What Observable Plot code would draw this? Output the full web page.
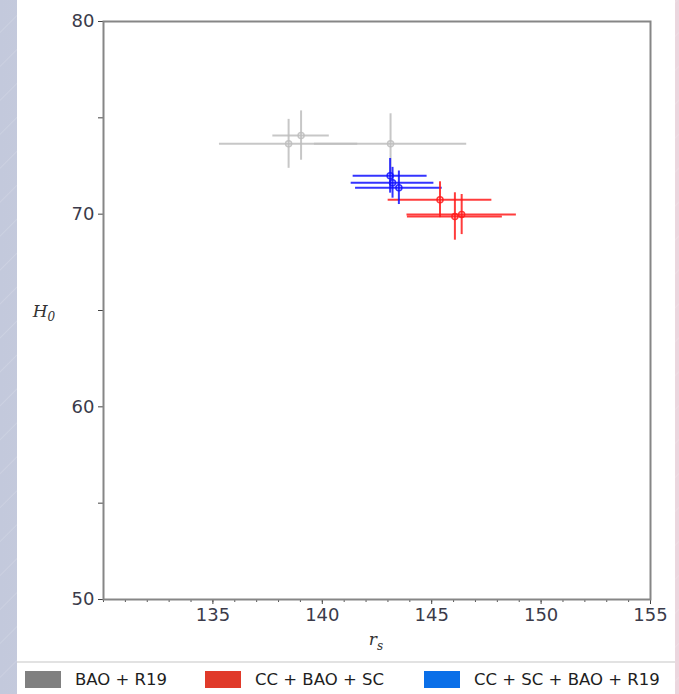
<!DOCTYPE html>
<html>
<head>
<meta charset="utf-8">
<script src="https://cdn.jsdelivr.net/npm/d3@7"></script>
<script src="https://cdn.jsdelivr.net/npm/@observablehq/plot@0.6"></script>
<style>
  html, body { margin: 0; padding: 0; }
  body {
    width: 679px; height: 694px; overflow: hidden; position: relative;
    background:
      repeating-linear-gradient(135deg, rgba(255,255,255,0) 0px, rgba(255,255,255,0) 22px, rgba(255,255,255,0.14) 23px, rgba(255,255,255,0) 24px),
      linear-gradient(90deg, #c3c9dc 0%, #d6d3e0 50%, #ebd6de 100%);
    font-family: "DejaVu Sans", sans-serif;
  }
  #panel { position: absolute; left: 17px; top: 0; width: 658px; height: 694px; background: #fff; }
  #chart { position: absolute; left: 0; top: 0; }
  #sep { position: absolute; left: 0; top: 661px; width: 658px; height: 2px; background: #e2e2e2; }
  #legend { position: absolute; left: 0; top: 663px; width: 658px; height: 31px; }
  .item { position: absolute; top: 8px; height: 17px; display: flex; align-items: center; font-size: 16.5px; color: #1e1e1e; white-space: nowrap; }
  .sw { width: 36px; height: 17px; margin-right: 14px; }
</style>
</head>
<body>
<div id="panel">
  <div id="chart"></div>
  <div id="sep"></div>
  <div id="legend"></div>
</div>
<script>
// Series: BAO + R19 (gray)
const grayRs   = [138.46, 143.12, 139.03];
const grayRsE  = [3.16, 3.48, 1.29];
const grayH0   = [73.65, 73.65, 74.08];
const grayH0E  = [1.27, 1.56, 1.28];
// Series: CC + BAO + SC (red)
const redRs    = [145.38, 146.06, 146.37];
const redRsE   = [2.37, 2.17, 2.50];
const redH0    = [70.75, 69.88, 69.98];
const redH0E   = [0.93, 1.23, 1.04];
// Series: CC + SC + BAO + R19 (blue)
const blueRs   = [143.10, 143.21, 143.50];
const blueRsE  = [1.69, 1.89, 1.98];
const blueH0   = [71.99, 71.63, 71.37];
const blueH0E  = [0.90, 0.80, 0.87];

const xTicks = [135, 140, 145, 150, 155];
const yTicks = [50, 60, 70, 80];
const xMinor = d3.range(130, 156, 1);
const yMinor = [55, 65, 75];

const legendNames = ["BAO + R19", "CC + BAO + SC", "CC + SC + BAO + R19"];
const legendColors = ["#808080", "#e03a2a", "#0a6fe8"];
const lineColors = ["#bdbdbd", "#ff1a1a", "#1010ff"];

function build(name, rs, rsE, h0, h0E, color) {
  return rs.map((v, i) => ({series: name, rs: v, rsE: rsE[i], h0: h0[i], h0E: h0E[i], color}));
}
const data = [
  ...build(legendNames[0], grayRs, grayRsE, grayH0, grayH0E, lineColors[0]),
  ...build(legendNames[2], blueRs, blueRsE, blueH0, blueH0E, lineColors[2]),
  ...build(legendNames[1], redRs, redRsE, redH0, redH0E, lineColors[1])
];

const tickFont = {fontSize: 18, fill: "#3b3b4a", fontFamily: "DejaVu Sans"};

const plot = Plot.plot({
  width: 658,
  height: 661,
  marginLeft: 86,
  marginRight: 25,
  marginTop: 21,
  marginBottom: 62,
  style: {background: "transparent", fontFamily: "DejaVu Sans", overflow: "visible"},
  x: {domain: [130, 155]},
  y: {domain: [50, 80]},
  marks: [
    Plot.axisX(xMinor, {tickSize: 3, text: null, stroke: "#555", label: null}),
    Plot.axisX(xTicks, {tickSize: 5, tickPadding: 4, stroke: "#444", label: null, ...tickFont}),
    Plot.axisY(yMinor, {tickSize: 5, text: null, stroke: "#444", label: null}),
    Plot.axisY(yTicks, {tickSize: 5, tickPadding: 4, stroke: "#444", label: null, ...tickFont}),
    Plot.frame({stroke: "#868686", strokeWidth: 2}),
    Plot.ruleY(data, {y: "h0", x1: d => d.rs - d.rsE, x2: d => d.rs + d.rsE, stroke: "color", strokeWidth: 2, strokeOpacity: 0.85}),
    Plot.ruleX(data, {x: "rs", y1: d => d.h0 - d.h0E, y2: d => d.h0 + d.h0E, stroke: "color", strokeWidth: 2, strokeOpacity: 0.85}),
    Plot.dot(data, {x: "rs", y: "h0", r: 3, stroke: "color", strokeWidth: 1.5, fill: "none", strokeOpacity: 0.85})
  ]
});
document.getElementById("chart").appendChild(plot);

// Axis titles with subscripts
const svg = d3.select(plot);
const yl = svg.append("text")
  .attr("x", 27).attr("y", 317).attr("text-anchor", "middle")
  .attr("font-family", "DejaVu Serif").attr("font-style", "italic")
  .attr("font-size", 17).attr("fill", "#333");
yl.append("tspan").text("H");
yl.append("tspan").attr("font-size", 12).attr("dy", 4).text("0");

const xl = svg.append("text")
  .attr("x", 359).attr("y", 645).attr("text-anchor", "middle")
  .attr("font-family", "DejaVu Serif").attr("font-style", "italic")
  .attr("font-size", 17).attr("fill", "#333");
xl.append("tspan").text("r");
xl.append("tspan").attr("font-size", 12).attr("dy", 5).text("s");

// Legend
const legendX = [8, 188, 407];
const legend = document.getElementById("legend");
legendNames.forEach((n, i) => {
  const item = document.createElement("div");
  item.className = "item";
  item.style.left = legendX[i] + "px";
  const sw = document.createElement("div");
  sw.className = "sw";
  sw.style.background = legendColors[i];
  const t = document.createElement("span");
  t.textContent = n;
  item.appendChild(sw);
  item.appendChild(t);
  legend.appendChild(item);
});
</script>
</body>
</html>
